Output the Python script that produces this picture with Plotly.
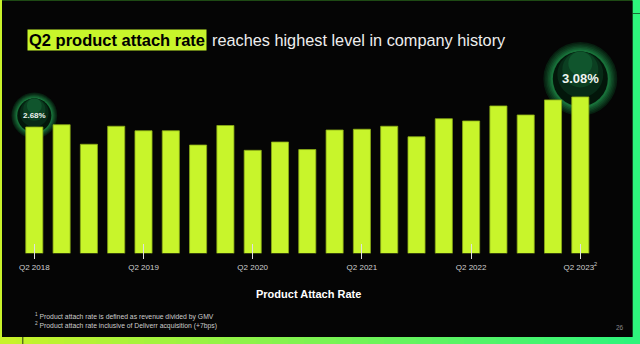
import plotly.graph_objects as go

quarters = ["Q2 2018", "Q3 2018", "Q4 2018", "Q1 2019", "Q2 2019", "Q3 2019", "Q4 2019",
            "Q1 2020", "Q2 2020", "Q3 2020", "Q4 2020", "Q1 2021", "Q2 2021", "Q3 2021",
            "Q4 2021", "Q1 2022", "Q2 2022", "Q3 2022", "Q4 2022", "Q1 2023", "Q2 2023"]
attach_rate = [2.68, 2.71, 2.45, 2.69, 2.63, 2.63, 2.44, 2.70, 2.37, 2.48, 2.38,
               2.64, 2.65, 2.69, 2.55, 2.79, 2.76, 2.96, 2.84, 3.04, 3.08]
tick_quarters = ["Q2 2018", "Q2 2019", "Q2 2020", "Q2 2021", "Q2 2022", "Q2 2023"]
tick_labels = ["Q2 2018", "Q2 2019", "Q2 2020", "Q2 2021", "Q2 2022", "Q2 2023<sup>2</sup>"]
highlight_points = [0, len(quarters) - 1]

W, H = 640, 344
FONT = "Liberation Sans, Arial, sans-serif"
LIME = "#c8f52b"
GREEN = (46, 245, 124)
LIME_RGB = (200, 242, 42)


def px(x):
    return x / W


def py(y):
    return 1 - y / H


fig = go.Figure(go.Bar(
    x=quarters, y=attach_rate,
    marker=dict(color=LIME, line=dict(color="#8aab16", width=0.8)),
    hoverinfo="skip",
))

shapes = []


def rect(x0, y0, x1, y1, color):
    shapes.append(dict(type="rect", xref="paper", yref="paper", layer="below",
                       x0=px(x0), x1=px(x1), y0=py(y1), y1=py(y0),
                       fillcolor=color, line=dict(width=0)))


# frame / background
rect(0, 0, 640, 344, "#1e4a14")
n = 40
for i in range(n):
    t = i / (n - 1)
    c = tuple(int(round(LIME_RGB[k] + (GREEN[k] - LIME_RGB[k]) * t)) for k in range(3))
    rect(i * W / n, 336.8, (i + 1) * W / n + 0.5, 344, "rgb(%d,%d,%d)" % c)
rect(0, 0, 2, 337, "rgb(%d,%d,%d)" % LIME_RGB)
rect(632.5, 0, 640, 337, "rgb(%d,%d,%d)" % GREEN)
rect(632.5, 13, 640, 14, "#1a6b35")
rect(22.3, 337, 23.3, 344, "#2a3a10")
rect(2, 1, 632.5, 337, "#050505")

# bubbles (right-bubble pixel units; scaled for the left one)
bubble_layers = [
    (37, 0, "#071f10"), (35.5, 0, "#0a2d17"), (34, 0, "#0d3c1f"), (32.5, 0, "#114c27"),
    (31, 0, "#145d30"), (29.5, 0, "#187039"),
    (27.5, 0, "#03160a"), (23, 4.5, "#072a16"), (18, 9.5, "#0b3f21"), (12, 15.5, "#10552d"),
]
bubble_cfg = {0: (11.5, 0.62, 8), len(quarters) - 1: (18, 1.0, 13)}
annotations = []
for idx in highlight_points:
    lift, s, fs = bubble_cfg[idx]
    for r, dy, col in bubble_layers:
        shapes.append(dict(type="circle", xref="x", yref="y", layer="below",
                           xsizemode="pixel", ysizemode="pixel",
                           xanchor=quarters[idx], yanchor=attach_rate[idx],
                           x0=-r * s, x1=r * s,
                           y0=lift + (dy - r) * s, y1=lift + (dy + r) * s,
                           fillcolor=col, line=dict(width=0)))
    annotations.append(dict(x=quarters[idx], y=attach_rate[idx], xref="x", yref="y",
                            yshift=lift, showarrow=False,
                            text="<b>%.2f%%</b>" % attach_rate[idx],
                            font=dict(family=FONT, size=fs, color="#eef4f0")))

annotations += [
    dict(x=px(26.5), y=py(40.5), xref="paper", yref="paper", xanchor="left", yanchor="middle",
         showarrow=False, text="<b>Q2 product attach rate</b>", bgcolor=LIME, borderpad=1,
         font=dict(family=FONT, size=16.5, color="#000000")),
    dict(x=px(210), y=py(40.5), xref="paper", yref="paper", xanchor="left", yanchor="middle",
         showarrow=False, text="reaches highest level in company history",
         font=dict(family=FONT, size=16.3, color="#eeeeee")),
    dict(x=px(308), y=py(293.5), xref="paper", yref="paper", xanchor="center", yanchor="middle",
         showarrow=False, text="<b>Product Attach Rate</b>",
         font=dict(family=FONT, size=11, color="#ffffff")),
    dict(x=px(33), y=py(316.7), xref="paper", yref="paper", xanchor="left", yanchor="middle",
         showarrow=False, text="<sup>1</sup> Product attach rate is defined as revenue divided by GMV",
         font=dict(family=FONT, size=6.8, color="#cccccc")),
    dict(x=px(33), y=py(325), xref="paper", yref="paper", xanchor="left", yanchor="middle",
         showarrow=False, text="<sup>2</sup> Product attach rate inclusive of Deliverr acquisition (+7bps)",
         font=dict(family=FONT, size=6.8, color="#cccccc")),
    dict(x=px(620), y=py(327), xref="paper", yref="paper", xanchor="center", yanchor="middle",
         showarrow=False, text="26", font=dict(family=FONT, size=6.5, color="#8a8a8a")),
]

fig.update_layout(
    width=W, height=H, autosize=False,
    margin=dict(l=0, r=0, t=0, b=0, pad=0),
    paper_bgcolor="#050505", plot_bgcolor="rgba(0,0,0,0)",
    bargap=0.374, showlegend=False,
    shapes=shapes, annotations=annotations,
    xaxis=dict(type="category", categoryorder="array", categoryarray=quarters,
               domain=[px(7.0), px(624.0)], range=[-1.0, 21.6],
               anchor="free", position=py(258.5),
               tickmode="array", tickvals=tick_quarters, ticktext=tick_labels,
               ticks="inside", ticklen=15, tickcolor="#e0e0e0", tickwidth=1,
               ticklabelstandoff=2,
               showline=False, showgrid=False, zeroline=False,
               tickfont=dict(family=FONT, size=8, color="#d0d0d0")),
    yaxis=dict(domain=[py(253.3), py(30)], range=[1.0, 3.97], visible=False,
               showgrid=False, zeroline=False),
)

fig.write_html("out.html")
